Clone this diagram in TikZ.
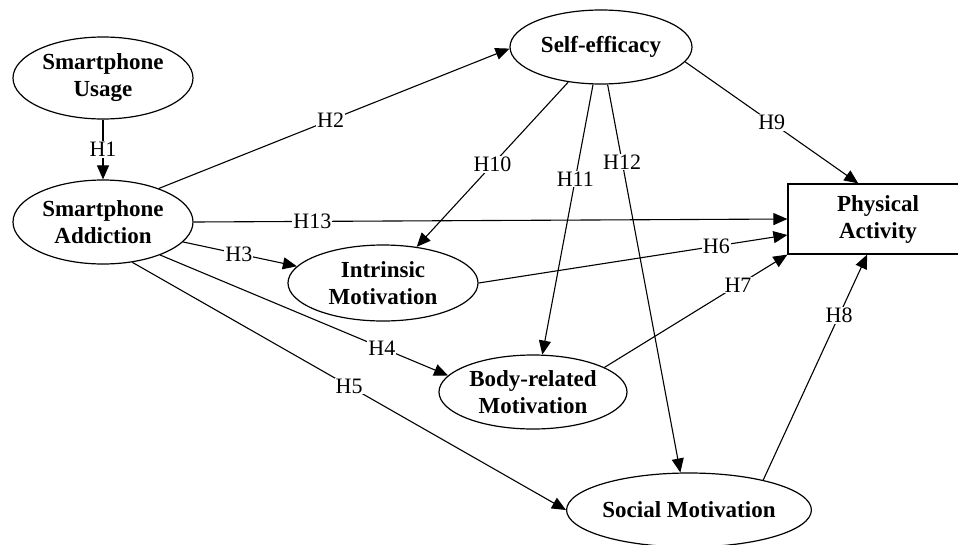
\documentclass[tikz,border=0pt]{standalone}
\usepackage{fontspec}
\setmainfont{Liberation Serif}
\usetikzlibrary{positioning, arrows.meta, shapes.geometric}

\begin{document}
\begin{tikzpicture}[
  x=1pt, y=-1pt,
  >={Triangle[length=14pt, width=12pt]},
  every node/.style={font=\fontsize{22}{27}\selectfont},
  construct/.style = {ellipse, draw, line width=1.2pt, inner sep=0pt, align=center, font=\fontsize{23}{27}\selectfont\bfseries},
  outcome/.style   = {rectangle, draw, line width=1.2pt, inner sep=0pt, align=center, font=\fontsize{23}{27}\selectfont\bfseries},
  hyp/.style       = {fill=white, inner sep=1pt},
  arr/.style       = {->, line width=1.1pt},
]
  \useasboundingbox (0,0) rectangle (958,544);
  % constructs
  \node[construct, minimum width=180pt, minimum height=82pt] (use) at (103,78)  {Smartphone\\Usage};
  \node[construct, minimum width=180pt, minimum height=84pt] (add) at (103,222) {Smartphone\\Addiction};
  \node[construct, minimum width=182pt, minimum height=74pt] (se)  at (601,47)  {Self-efficacy};
  \node[construct, minimum width=190pt, minimum height=76pt] (im)  at (383,283) {Intrinsic\\Motivation};
  \node[construct, minimum width=188pt, minimum height=74pt] (br)  at (533,392) {Body-related\\Motivation};
  \node[construct, minimum width=188pt, minimum height=74pt] (sm)  at (689,510) {Social Motivation};
  \node[outcome, minimum width=180pt, minimum height=70pt]   (pa)  at (878,219) {Physical\\Activity};
  % hypotheses
  \foreach \a/\b/\l/\p in {use.south/add.north/H1/0.5, add.31/se.181/H2/0.49, add.-14/im.169/H3/0.49,
      add.-30/br.169/H4/0.77, add.-54/sm.180/H5/0.5, im.0/pa.190/H6/0.77, br.19/pa.south west/H7/0.73,
      sm.22/pa.253/H8/0.73, se.350/pa.119/H9/0.5, se.227/im.47/H10/0.5, se.258/br.76/H11/0.35,
      se.280/sm.103/H12/0.2, add.0/pa.180/H13/0.2}
    \draw[arr] (\a) -- node[hyp, pos=\p]{\l} (\b);
\end{tikzpicture}
\end{document}
